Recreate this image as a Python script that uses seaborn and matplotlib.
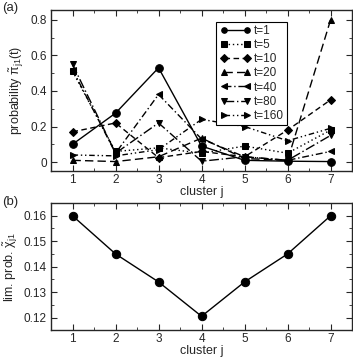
import numpy as np
import pandas as pd
import seaborn as sns
import matplotlib
matplotlib.use("Agg")
import matplotlib.pyplot as plt
from matplotlib.ticker import MultipleLocator, FuncFormatter

clusters = [1, 2, 3, 4, 5, 6, 7]
times = ["t=1", "t=5", "t=10", "t=20", "t=40", "t=80", "t=160"]

p_t1 = [0.10, 0.275, 0.53, 0.09, 0.01, 0.005, 0.003]
p_t5 = [0.51, 0.06, 0.08, 0.05, 0.09, 0.05, 0.18]
p_t10 = [0.17, 0.22, 0.025, 0.06, 0.03, 0.18, 0.35]
p_t20 = [0.01, 0.003, 0.03, 0.135, 0.02, 0.01, 0.80]
p_t40 = [0.52, 0.05, 0.38, 0.13, 0.03, 0.01, 0.06]
p_t80 = [0.55, 0.05, 0.22, 0.005, 0.03, 0.01, 0.15]
p_t160 = [0.04, 0.035, 0.07, 0.24, 0.20, 0.12, 0.19]

lim_prob = [0.160, 0.145, 0.134, 0.1205, 0.134, 0.145, 0.160]

series = [p_t1, p_t5, p_t10, p_t20, p_t40, p_t80, p_t160]
df = pd.DataFrame(
    [(j, t, v) for t, vals in zip(times, series) for j, v in zip(clusters, vals)],
    columns=["cluster", "time", "prob"],
)
df_lim = pd.DataFrame({"cluster": clusters, "lim": lim_prob})

sns.set_style("ticks")
plt.rcParams["font.family"] = ["Liberation Sans", "DejaVu Sans"]
plt.rcParams["mathtext.fontset"] = "custom"
plt.rcParams["mathtext.rm"] = "Liberation Sans"
plt.rcParams["mathtext.it"] = "Liberation Sans"
plt.rcParams["font.size"] = 8
for ax_name in ["xtick", "ytick"]:
    plt.rcParams[f"{ax_name}.direction"] = "in"
    plt.rcParams[f"{ax_name}.major.size"] = 4
    plt.rcParams[f"{ax_name}.minor.size"] = 2
plt.rcParams["xtick.top"] = True
plt.rcParams["ytick.right"] = True

markers = {"t=1": "o", "t=5": "s", "t=10": "D", "t=20": "^",
           "t=40": "<", "t=80": "v", "t=160": ">"}
dashes = {"t=1": "", "t=5": (1, 2), "t=10": (4, 2.5), "t=20": (6, 3),
          "t=40": (5, 2, 1, 2), "t=80": (7, 2, 1, 2), "t=160": (4, 2, 1, 2, 1, 2)}
sizes = {"t=1": 5.5, "t=5": 4.5, "t=10": 4, "t=20": 5, "t=40": 5, "t=80": 5, "t=160": 5}

fig = plt.figure(figsize=(3.53, 3.59), dpi=100)
ax1 = fig.add_axes([0.1445, 0.5237, 0.853, 0.4485])
ax2 = fig.add_axes([0.1445, 0.08, 0.853, 0.3545])

sns.lineplot(data=df, x="cluster", y="prob", hue="time", style="time",
             palette=["black"] * 7, markers=markers, dashes=dashes,
             hue_order=times, style_order=times, lw=1, markersize=5,
             markeredgecolor="black", ax=ax1)
ax1.legend_.remove()
for line, t in zip(ax1.lines, times):
    line.set_markersize(sizes[t])

handles = ax1.lines[:7]
leg = ax1.legend(handles, times, loc="upper left", bbox_to_anchor=(0.53, 0.965),
                 numpoints=2, frameon=True, fancybox=False, edgecolor="black",
                 framealpha=1, handlelength=2.6, handletextpad=0.25,
                 labelspacing=0.18, borderpad=0.3, fontsize=8.5)
leg.get_frame().set_linewidth(0.8)
for h in leg.legend_handles:
    h.set_markersize(4)

ax1.set_xlim(0.5, 7.5)
ax1.set_ylim(-0.05, 0.855)
ax1.xaxis.set_major_locator(MultipleLocator(1))
ax1.xaxis.set_minor_locator(MultipleLocator(0.5))
ax1.yaxis.set_major_locator(MultipleLocator(0.2))
ax1.yaxis.set_minor_locator(MultipleLocator(0.1))
ax1.yaxis.set_major_formatter(FuncFormatter(lambda v, p: "0" if abs(v) < 1e-9 else f"{v:.1f}"))
ax1.set_xlabel("cluster j", labelpad=0, fontsize=9)
ax1.set_ylabel(r"probability $\tilde{\pi}_{j1}$(t)", labelpad=3, fontsize=9)

sns.lineplot(data=df_lim, x="cluster", y="lim", color="black", marker="o",
             markersize=6, markeredgecolor="black", lw=1, ax=ax2)
ax2.set_xlim(0.5, 7.5)
ax2.set_ylim(0.115, 0.165)
ax2.xaxis.set_major_locator(MultipleLocator(1))
ax2.xaxis.set_minor_locator(MultipleLocator(0.5))
ax2.yaxis.set_major_locator(MultipleLocator(0.01))
ax2.yaxis.set_minor_locator(MultipleLocator(0.005))
ax2.yaxis.set_major_formatter(FuncFormatter(lambda v, p: f"{v:.2f}"))
ax2.set_xlabel("cluster j", labelpad=0, fontsize=9)
ax2.set_ylabel(r"lim. prob. $\tilde{\chi}_{j1}$", labelpad=3, fontsize=9)

for ax in (ax1, ax2):
    for s in ax.spines.values():
        s.set_linewidth(1)
        s.set_visible(True)
    ax.tick_params(which="both", top=True, right=True, labelsize=8.5)
    ax.tick_params(axis="x", pad=2)
    ax.tick_params(axis="y", pad=3)

fig.text(0.005, 0.995, "(a)", ha="left", va="top", fontsize=9.5)
fig.text(0.005, 0.455, "(b)", ha="left", va="top", fontsize=9.5)

fig.savefig("out.png", dpi=100)
